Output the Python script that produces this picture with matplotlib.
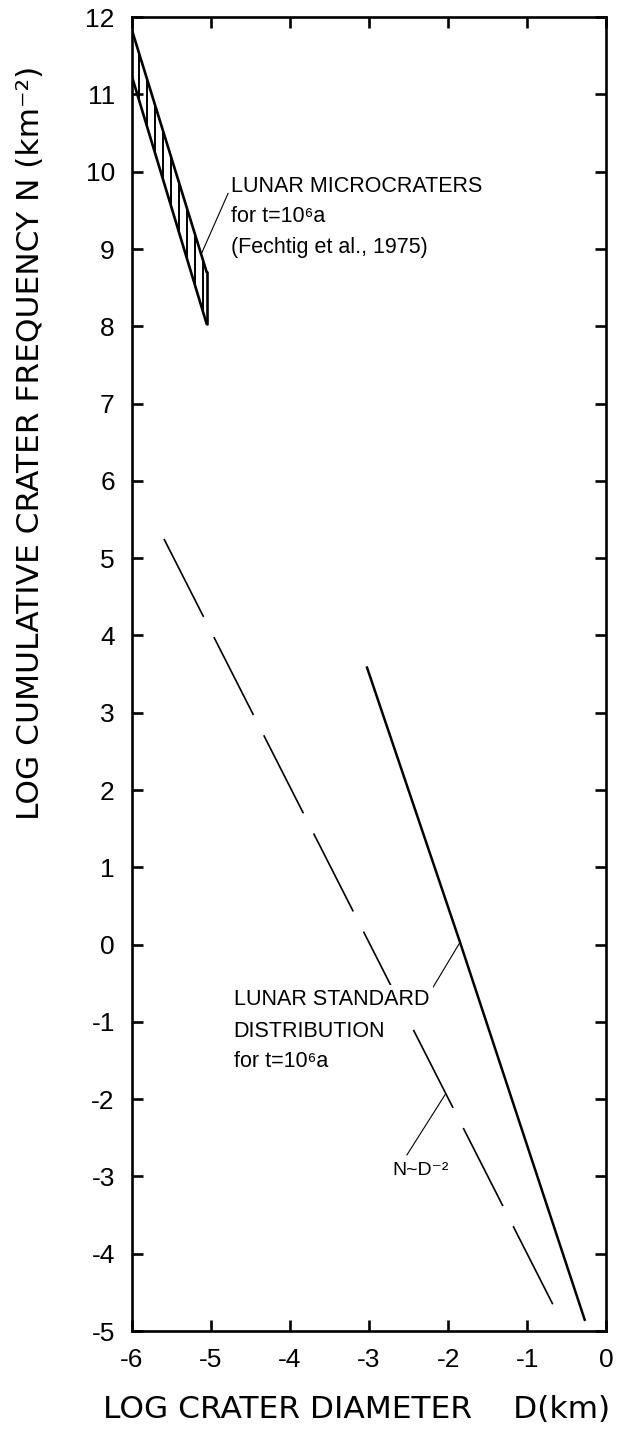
import numpy as np
import matplotlib
matplotlib.use("Agg")
import matplotlib.pyplot as plt

# ---- data (all values in log10 units) ----
# lunar microcrater band (Fechtig et al., 1975), t = 1e6 a
micro_x = [-6.0, -5.05]
micro_upper = [11.85, 8.70]
micro_lower = [11.25, 8.03]
hatch_x = [-5.9, -5.8, -5.7, -5.6, -5.5, -5.4, -5.3, -5.2, -5.1]

# lunar standard distribution, t = 1e6 a
standard_x = [-3.03, -1.85, -0.27]
standard_y = [3.60, 0.03, -4.87]

# N ~ D^-2 power law
power_x = [-5.59, -0.66]
power_y = [5.25, -4.69]

x_ticks = [-6, -5, -4, -3, -2, -1, 0]
y_ticks = list(range(-5, 13))

plt.rcParams["lines.scale_dashes"] = False
plt.rcParams["axes.unicode_minus"] = False

TICK_FONT = ["Liberation Sans", "DejaVu Sans"]
NOTE_FONT = ["Liberation Sans", "DejaVu Sans"]
LABEL_FONT = ["DejaVu Sans"]

fig = plt.figure(figsize=(6.2, 14.32), dpi=100)
ax = fig.add_axes([0.2121, 0.0705, 0.7661, 0.9175])
ax.set_xlim(-6, 0)
ax.set_ylim(-5, 12)

for side in ax.spines.values():
    side.set_linewidth(1.9)

ax.set_xticks(x_ticks)
ax.set_yticks(y_ticks)
ax.tick_params(direction="in", length=8, width=1.9, top=True, right=True,
               labelsize=19, pad=12)
for lab in ax.get_xticklabels() + ax.get_yticklabels():
    lab.set_family(TICK_FONT)

# microcrater band with vertical hatching
ax.plot(micro_x, micro_upper, color="k", lw=1.9, solid_capstyle="round")
ax.plot(micro_x, micro_lower, color="k", lw=1.9, solid_capstyle="round")
ax.plot([micro_x[-1], micro_x[-1]], [micro_lower[-1], micro_upper[-1]],
        color="k", lw=1.9, solid_capstyle="round")
ax.vlines(hatch_x, np.interp(hatch_x, micro_x, micro_lower),
          np.interp(hatch_x, micro_x, micro_upper), color="k", lw=1.4)

# standard distribution
ax.plot(standard_x, standard_y, color="k", lw=1.8, solid_capstyle="butt")

# N ~ D^-2 reference line (long dashes)
ax.plot(power_x, power_y, color="k", lw=1.2,
        linestyle=(0, (63.0, 16.3)), dash_capstyle="butt")

# leader lines from the labels to their curves
lead_x = -5.12
ax.plot([lead_x, -4.78], [np.interp(lead_x, micro_x, micro_upper), 9.72],
        color="k", lw=0.8)
lead_x = -1.85
ax.plot([-2.19, lead_x], [-0.55, np.interp(lead_x, standard_x, standard_y)],
        color="k", lw=0.8)
lead_x = -2.03
ax.plot([-2.52, lead_x], [-2.72, np.interp(lead_x, power_x, power_y)],
        color="k", lw=0.8)

note_kw = dict(family=NOTE_FONT, fontsize=15.5, ha="left", va="baseline",
               color="k")
ax.text(-4.74, 9.74, "LUNAR MICROCRATERS", **note_kw)
ax.text(-4.74, 9.35, "for t=10\u2076a", **note_kw)
ax.text(-4.74, 8.95, "(Fechtig et al., 1975)", **note_kw)

ax.text(-4.71, -0.78, "LUNAR STANDARD", zorder=5,
        bbox=dict(facecolor="white", edgecolor="none", pad=3), **note_kw)
ax.text(-4.71, -1.20, "DISTRIBUTION", **note_kw)
ax.text(-4.71, -1.58, "for t=10\u2076a", **note_kw)

ax.text(-2.70, -2.98, "N~D\u207b\u00b2", family=NOTE_FONT, fontsize=14,
        ha="left", va="baseline")

# axis titles
fig.text(0.050, 0.691, "LOG CUMULATIVE CRATER FREQUENCY N (km\u207b\u00b2)",
         rotation=90, ha="center", va="center", family=LABEL_FONT,
         fontsize=22.5)
fig.text(0.575, 0.016, "LOG CRATER DIAMETER\u2003 D(km)",
         ha="center", va="center", family=LABEL_FONT, fontsize=22.5)

fig.savefig("out.png", dpi=100, facecolor="white")
